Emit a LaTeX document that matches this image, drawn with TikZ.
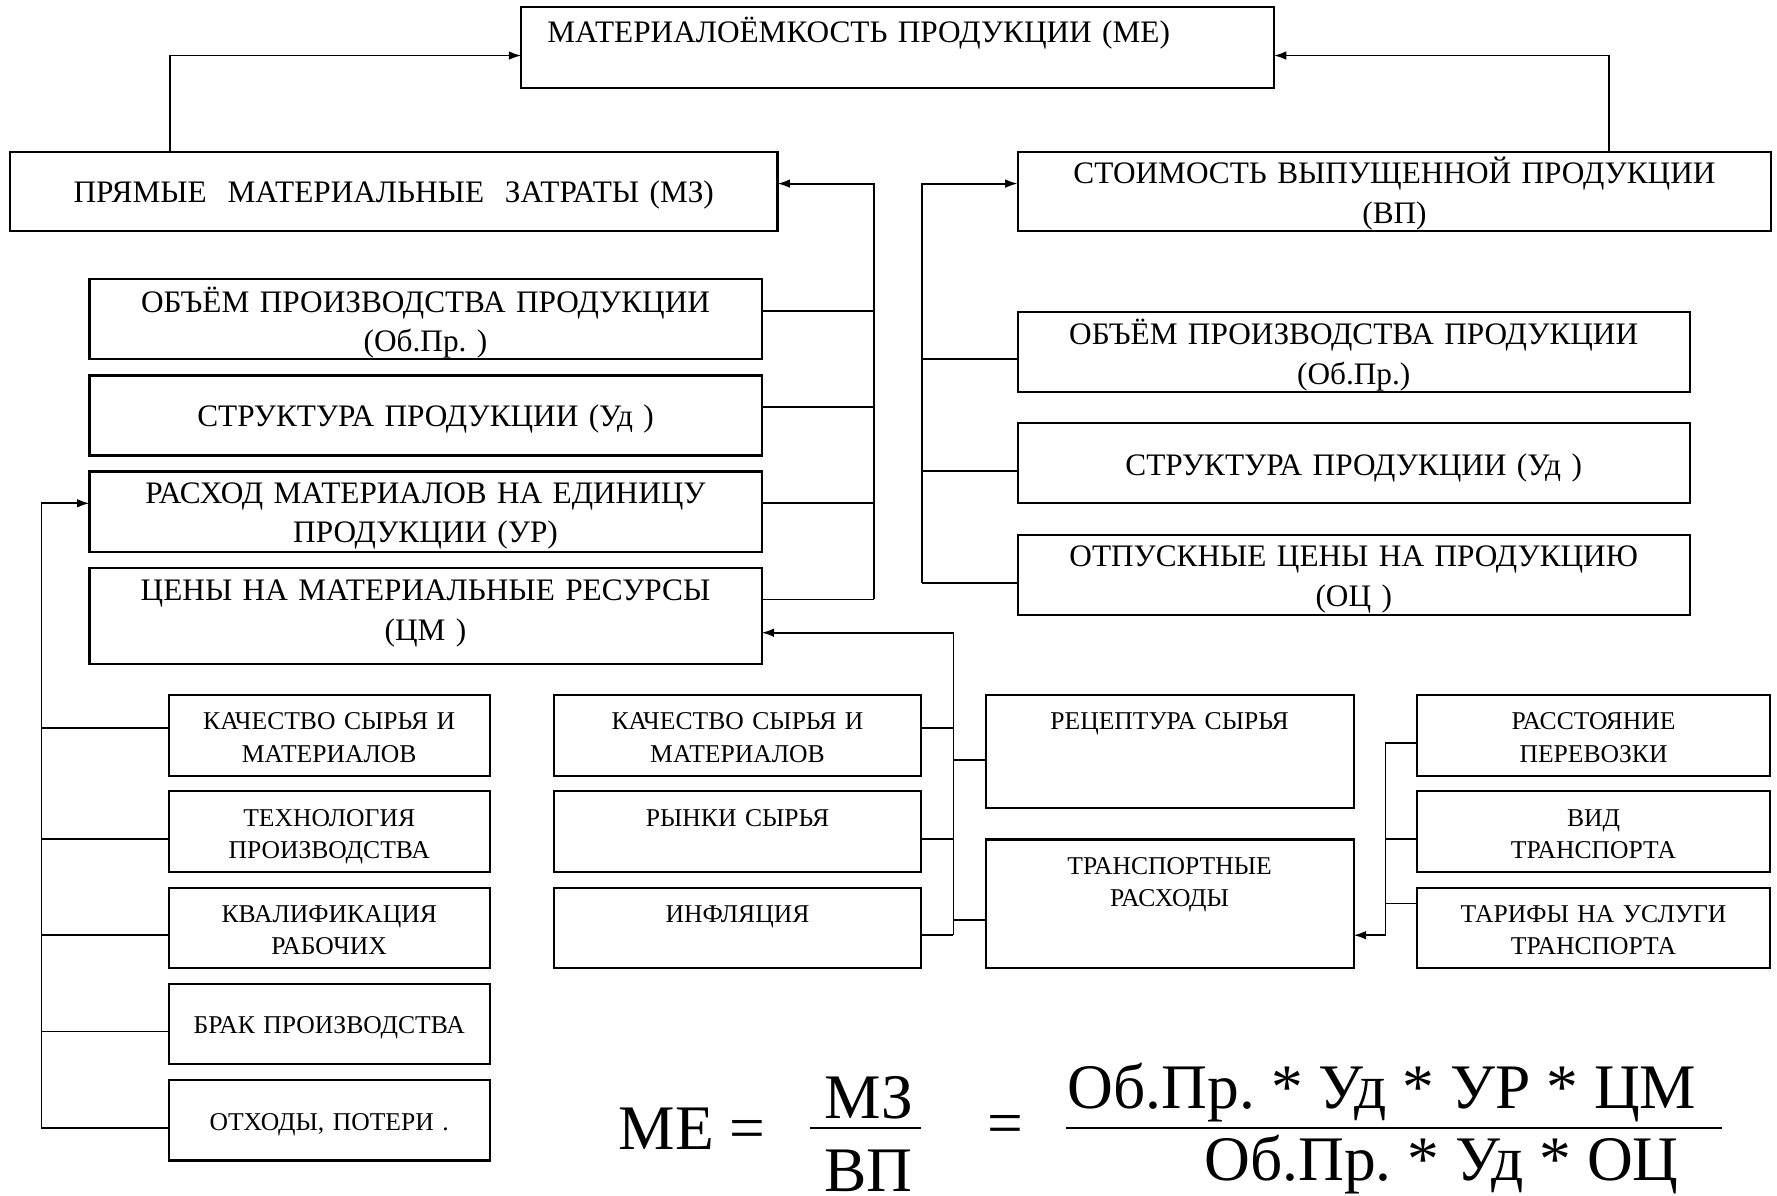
\documentclass[tikz,border=0pt]{standalone}
\usepackage{fontspec}
\setmainfont{Liberation Serif}
\frenchspacing
\usetikzlibrary{positioning,arrows.meta}
\tikzset{
  box/.style={draw,line width=.95pt,inner sep=0pt,outer sep=0pt,align=center,anchor=north west},
  big box/.style={box,font=\fontsize{13.8}{17.5}\selectfont},
  mid box/.style={big box,text width=296.5pt},
  two lines/.style={text height=14.5pt,text depth=20.8pt},
  small box/.style={box,font=\fontsize{11.3}{14.35}\selectfont,text height=15.35pt,text depth=20.15pt},
  conn/.style={line width=.8pt},
  arr/.style={conn,-{Latex[length=5.5pt,width=3.8pt]}},
  frac/.style={line width=.95pt},
  frm/.style={font=\fontsize{28}{32}\selectfont,inner sep=0pt,anchor=base},
}

\begin{document}
\begin{tikzpicture}[x=.5pt,y=-.5pt]
\useasboundingbox (0,0) rectangle (1568,1055);

% top row
\node[big box,text width=309pt,inner xsep=11.5pt,align=left,text height=15.3pt,text depth=20.2pt] (me) at (460,6.5) {МАТЕРИАЛОЁМКОСТЬ ПРОДУКЦИИ (МЕ)};
\node[big box,text width=338.5pt,text height=22.5pt,text depth=12.5pt] (mz) at (9,134) {ПРЯМЫЕ~~МАТЕРИАЛЬНЫЕ~~ЗАТРАТЫ (МЗ)};
\node[big box,text width=332.5pt,text height=14pt,text depth=21pt] (vp) at (898,134) {СТОИМОСТЬ ВЫПУЩЕННОЙ ПРОДУКЦИИ\\(ВП)};

% factors of MZ
\node[mid box,two lines] (obpr1) at (79,246.5) {ОБЪЁМ ПРОИЗВОДСТВА ПРОДУКЦИИ\\(Об.Пр.~)};
\node[mid box,text height=22.5pt,text depth=12.8pt,below=7.1pt of obpr1] (str1) {СТРУКТУРА ПРОДУКЦИИ (Уд~)};
\node[mid box,text height=14pt,text depth=21.3pt,below=7.1pt of str1] (rash) {РАСХОД МАТЕРИАЛОВ НА ЕДИНИЦУ\\ПРОДУКЦИИ (УР)};
\node[mid box,text height=14.5pt,text depth=27.85pt,below=7.1pt of rash] (ceny) {ЦЕНЫ НА МАТЕРИАЛЬНЫЕ РЕСУРСЫ\\(ЦМ~)};

% factors of VP
\node[mid box,two lines] (obpr2) at (898,275) {ОБЪЁМ ПРОИЗВОДСТВА ПРОДУКЦИИ\\(Об.Пр.)};
\node[mid box,text height=23.15pt,text depth=12.15pt,below=14pt of obpr2] (str2) {СТРУКТУРА ПРОДУКЦИИ (Уд~)};
\node[mid box,text height=14pt,text depth=21.3pt,below=14pt of str2] (oc) {ОТПУСКНЫЕ ЦЕНЫ НА ПРОДУКЦИЮ\\(ОЦ~)};

% factors of UR
\node[small box,text width=141.5pt] (k1) at (149,613.4) {КАЧЕСТВО СЫРЬЯ И\\МАТЕРИАЛОВ};
\node[small box,text width=141.5pt,below=6.95pt of k1] (tech) {ТЕХНОЛОГИЯ\\ПРОИЗВОДСТВА};
\node[small box,text width=141.5pt,below=6.95pt of tech] (kval) {КВАЛИФИКАЦИЯ\\РАБОЧИХ};
\node[small box,text width=141.5pt,text height=21.85pt,text depth=13.65pt,below=6.95pt of kval] (brak) {БРАК ПРОИЗВОДСТВА};
\node[small box,text width=141.5pt,text height=22.45pt,text depth=13.05pt,below=6.95pt of brak] (oth) {ОТХОДЫ, ПОТЕРИ .};

% factors of CM
\node[small box,text width=162.25pt] (m1) at (488.5,613.4) {КАЧЕСТВО СЫРЬЯ И\\МАТЕРИАЛОВ};
\node[small box,text width=162.25pt,below=6.95pt of m1] (m2) {РЫНКИ СЫРЬЯ};
\node[small box,text width=162.25pt,below=6.95pt of m2] (m3) {ИНФЛЯЦИЯ};
\node[small box,text width=162.35pt,text depth=34.3pt] (rec) at (869.7,613.4) {РЕЦЕПТУРА СЫРЬЯ};
\node[small box,text width=162.35pt,text depth=41.25pt] (trans) at (869.7,740.7) {ТРАНСПОРТНЫЕ\\РАСХОДЫ};
\node[small box,text width=155.5pt] (rasst) at (1250.6,613.4) {РАССТОЯНИЕ\\ПЕРЕВОЗКИ};
\node[small box,text width=155.5pt,below=6.95pt of rasst] (vid) {ВИД\\ТРАНСПОРТА};
\node[small box,text width=155.5pt,below=6.95pt of vid] (tarif) {ТАРИФЫ НА УСЛУГИ\\ТРАНСПОРТА};

% arrows into ME
\coordinate (mzup) at (150,49);
\draw[arr] (mzup |- mz.north) -- (mzup) -- (mzup -| me.west);
\coordinate (vpup) at (1420,49);
\draw[arr] (vpup |- vp.north) -- (vpup) -- (vpup -| me.east);

% buses
\coordinate (lbus) at (771,162);
\draw[arr] ([yshift=-14pt]lbus |- ceny.north east) -- (lbus) -- (lbus -| mz.east);
\foreach \bx in {obpr1,str1,rash,ceny}
  \draw[conn] ([yshift=-14pt]\bx.north east) -- ([yshift=-14pt]lbus |- \bx.north east);

\coordinate (rbus) at (813.5,162);
\draw[arr] ([yshift=-21pt]rbus |- oc.north west) -- (rbus) -- (rbus -| vp.west);
\foreach \bx in {obpr2,str2,oc}
  \draw[conn] ([yshift=-21pt]\bx.north west) -- ([yshift=-21pt]rbus |- \bx.north west);

\coordinate (bbus) at (36.6,444.1);
\draw[arr] ([yshift=-21pt]bbus |- oth.north west) -- (bbus) -- (bbus -| rash.west);
\foreach \bx/\off in {k1/14.35pt,tech/21pt,kval/21pt,brak/21pt,oth/21pt}
  \draw[conn] ([yshift=-\off]\bx.north west) -- ([yshift=-\off]bbus |- \bx.north west);

\coordinate (mbus) at (841.3,558.3);
\draw[arr] ([yshift=-20.85pt]mbus |- m3.north east) -- (mbus) -- (mbus -| ceny.east);
\foreach \bx/\off in {m1/14.35pt,m2/21.1pt,m3/20.85pt}
  \draw[conn] ([yshift=-\off]\bx.north east) -- ([yshift=-\off]mbus |- \bx.north east);
\foreach \bx/\off in {rec/28.7pt,trans/35.45pt}
  \draw[conn] ([yshift=-\off]\bx.north west) -- ([yshift=-\off]mbus |- \bx.north west);

\coordinate (tbus) at (1222.5,825.2);
\draw[arr] ([yshift=-21.15pt]tbus |- rasst.north west) -- (tbus) -- (tbus -| trans.east);
\foreach \bx/\off in {rasst/21.15pt,vid/21.1pt,tarif/7pt}
  \draw[conn] ([yshift=-\off]\bx.north west) -- ([yshift=-\off]tbus |- \bx.north west);

% formula
\node[frm,anchor=base west] (mef) at (545.6,1014.7) {МЕ =};
\node[frm] (mzf) at (766.7,986.8) {МЗ};
\node[frm] (vpf) at (766,1051) {ВП};
\coordinate (fa) at (714.7,995);
\coordinate (fb) at (813,995);
\draw[frac] (fa) -- (fb);
\node[frm] (eqf) at (887.5,1010) {=};
\node[frm] (numf) at (1219.5,978) {Об.Пр. * Уд * УР * ЦМ};
\node[frm] (denf) at (1272,1041.2) {Об.Пр. * Уд * ОЦ};
\coordinate (fc) at (940.8,995);
\coordinate (fd) at (1519.6,995);
\draw[frac] (fc) -- (fd);
\end{tikzpicture}
\end{document}
